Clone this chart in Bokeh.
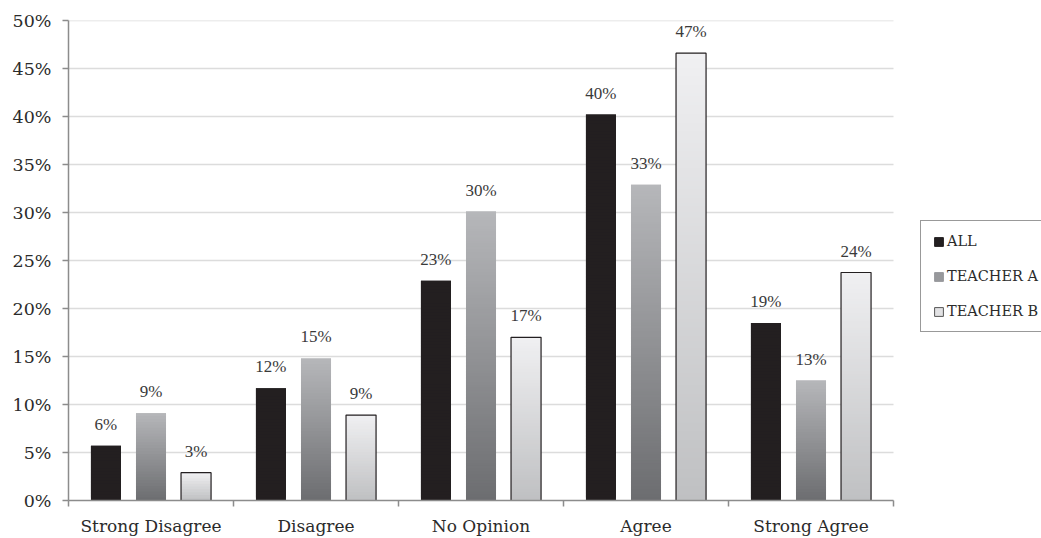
from bokeh.plotting import figure
from bokeh.models import (FixedTicker, Range1d, Legend, LegendItem, LinearAxis)
from bokeh.embed import file_html
from bokeh.resources import INLINE

# Survey responses (percent of respondents)
categories = ["Strong Disagree", "Disagree", "No Opinion", "Agree", "Strong Agree"]
series_names = ["ALL", "TEACHER A", "TEACHER B"]
all_vals = [5.7, 11.7, 22.9, 40.2, 18.5]
teacher_a = [9.1, 14.8, 30.1, 32.9, 12.5]
teacher_b = [2.9, 8.9, 17.0, 46.6, 23.75]
y_ticks = [0, 5, 10, 15, 20, 25, 30, 35, 40, 45, 50]

FONT = "DejaVu Serif"
AXIS_GRAY = "#8c8c8c"
TEXT = "#2b2b2b"

W, H = 1041, 538
LEFT = 68
PLOT_W = 825  # pixel width taken by the five category slots
n_cat = len(categories)
x_end = n_cat * (W - LEFT) / PLOT_W  # frame runs to the page edge so the legend fits

p = figure(width=W, height=H, output_backend="svg", toolbar_location=None,
           x_range=Range1d(0, x_end), y_range=Range1d(0, 50),
           min_border_left=LEFT, min_border_right=0, min_border_top=20,
           min_border_bottom=38, x_axis_type=None, y_axis_type=None)
p.outline_line_color = None
p.background_fill_color = "white"


def lerp(c0, c1, t):
    a = [int(c0[i:i + 2], 16) for i in (1, 3, 5)]
    b = [int(c1[i:i + 2], 16) for i in (1, 3, 5)]
    return "#%02x%02x%02x" % tuple(int(round(a[k] + (b[k] - a[k]) * t)) for k in range(3))


# gradient endpoints per series: (bottom colour, top colour)
grads = [("#231f20", "#231f20"), ("#6c6d70", "#b6b7ba"), ("#bfc0c2", "#f0f0f2")]
offsets = [-0.273, 0.0, 0.273]
bar_w = 0.182
series = [all_vals, teacher_a, teacher_b]
STEP = 0.3  # slice height of the gradient, in percent

left, right, bottom, top, color = [], [], [], [], []
for s, vals in enumerate(series):
    c0, c1 = grads[s]
    for i, v in enumerate(vals):
        cx = i + 0.5 + offsets[s]
        n = max(6, int(round(v / STEP)))
        for k in range(n):
            left.append(cx - bar_w / 2)
            right.append(cx + bar_w / 2)
            bottom.append(v * k / n)
            top.append(min(v, v * (k + 2) / n))
            color.append(lerp(c0, c1, (k + 0.5) / n))

# gridlines
for t in y_ticks[1:]:
    p.line(x=[0, n_cat], y=[t, t], line_color="#dcdcdc", line_width=1.5)

p.quad(left=left, right=right, bottom=bottom, top=top, fill_color=color, line_color=None)

# outline for the light series
p.quad(left=[i + 0.5 + offsets[2] - bar_w / 2 for i in range(n_cat)],
       right=[i + 0.5 + offsets[2] + bar_w / 2 for i in range(n_cat)],
       bottom=[0] * n_cat, top=teacher_b, fill_color=None, line_color="#231f20",
       line_width=1.2)

# value labels
lx, ly, lt = [], [], []
for s, vals in enumerate(series):
    for i, v in enumerate(vals):
        lx.append(i + 0.5 + offsets[s])
        ly.append(v)
        lt.append("%d%%" % int(v + 0.5))
p.text(x=lx, y=ly, text=lt, text_align="center", text_baseline="bottom", y_offset=-12,
       text_font=FONT, text_font_size="17px", text_color="#3a3a3a")

# axes
yaxis = LinearAxis(ticker=FixedTicker(ticks=y_ticks),
                   major_label_overrides={t: "%d%%" % t for t in y_ticks})
yaxis.axis_line_color = AXIS_GRAY
yaxis.axis_line_width = 1.5
yaxis.major_tick_line_color = AXIS_GRAY
yaxis.major_tick_line_width = 1.5
yaxis.major_tick_out = 6
yaxis.major_tick_in = 0
yaxis.minor_tick_line_color = None
yaxis.major_label_text_font = FONT
yaxis.major_label_text_font_size = "17.5px"
yaxis.major_label_text_color = TEXT
yaxis.major_label_standoff = 11
p.add_layout(yaxis, "left")

xaxis = LinearAxis(ticker=FixedTicker(ticks=[i + 0.5 for i in range(n_cat)],
                                      minor_ticks=list(range(n_cat + 1))),
                   major_label_overrides={i + 0.5: c for i, c in enumerate(categories)},
                   bounds=(0, n_cat))
xaxis.axis_line_color = AXIS_GRAY
xaxis.axis_line_width = 1.5
xaxis.major_tick_line_color = None
xaxis.minor_tick_line_color = AXIS_GRAY
xaxis.minor_tick_line_width = 1.5
xaxis.minor_tick_out = 6
xaxis.minor_tick_in = 0
xaxis.major_label_text_font = FONT
xaxis.major_label_text_font_size = "17px"
xaxis.major_label_text_color = TEXT
xaxis.major_label_standoff = 9
p.add_layout(xaxis, "below")

# legend swatches (single off-range quad each, only used for the legend)
swatch = ["#231f20", "#98999c", "#e2e2e4"]
items = []
for s, name in enumerate(series_names):
    r = p.quad(left=[-2], right=[-1], bottom=[-2], top=[-1], fill_color=swatch[s],
               line_color="#555555" if s == 2 else swatch[s], line_width=1)
    items.append(LegendItem(label=name, renderers=[r]))

legend = Legend(items=items, location=(852, 168))
legend.glyph_width = 11
legend.glyph_height = 11
legend.label_text_font = FONT
legend.label_text_font_size = "14.5px"
legend.label_text_color = TEXT
legend.label_standoff = 3
legend.spacing = 19
legend.padding = 12
legend.margin = 0
legend.border_line_color = "#333333"
legend.border_line_width = 1.5
legend.background_fill_alpha = 1
p.add_layout(legend, "center")

open("out.html", "w").write(file_html(p, INLINE))
